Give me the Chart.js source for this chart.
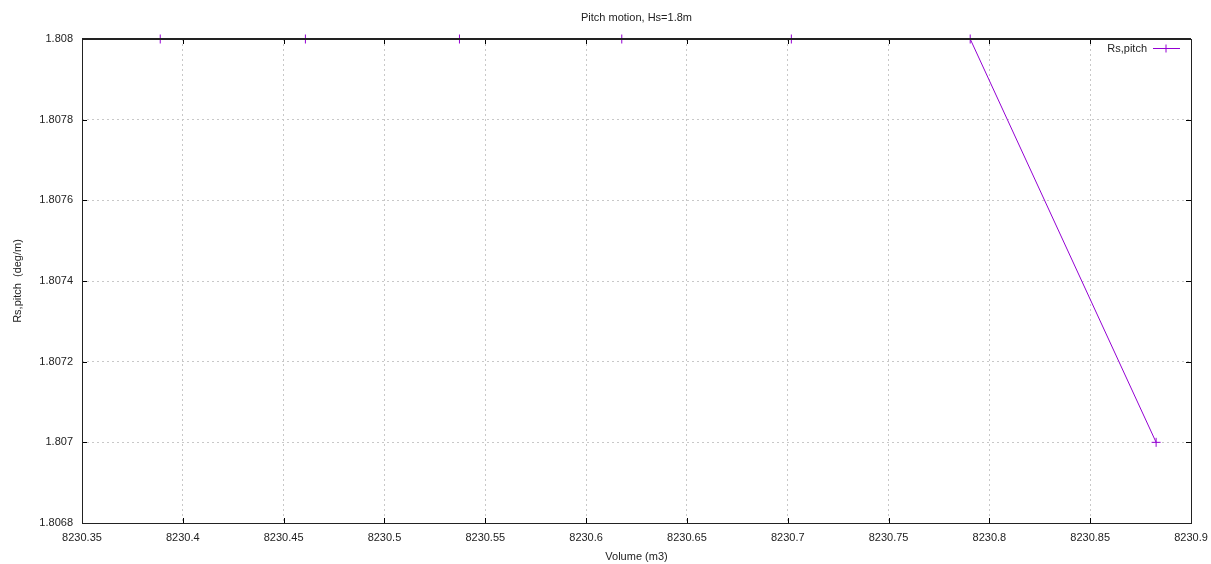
<!DOCTYPE html>
<html>
<head>
<meta charset="utf-8">
<script src="https://cdn.jsdelivr.net/npm/chart.js@4/dist/chart.umd.min.js"></script>
<style>
  html, body { margin: 0; padding: 0; background: #fff; }
  #wrap { width: 1211px; height: 564px; position: relative; }
</style>
</head>
<body>
<div id="wrap"><canvas id="c"></canvas></div>
<script>
'use strict';

const volumes = [8230.3888, 8230.4608, 8230.5372, 8230.6177, 8230.7018, 8230.7905, 8230.8827];
const rsPitch = [1.808, 1.808, 1.808, 1.808, 1.808, 1.808, 1.807];

const xTicks = [8230.35, 8230.4, 8230.45, 8230.5, 8230.55, 8230.6, 8230.65, 8230.7, 8230.75, 8230.8, 8230.85, 8230.9];
const xTickLabels = ['8230.35', '8230.4', '8230.45', '8230.5', '8230.55', '8230.6', '8230.65', '8230.7', '8230.75', '8230.8', '8230.85', '8230.9'];
const yTicks = [1.8068, 1.807, 1.8072, 1.8074, 1.8076, 1.8078, 1.808];
const yTickLabels = ['1.8068', '1.807', '1.8072', '1.8074', '1.8076', '1.8078', '1.808'];

const seriesName = 'Rs,pitch';
const chartTitle = 'Pitch motion, Hs=1.8m';

const FONT = '"Liberation Sans", Arial, sans-serif';
const TEXT = '#222';
const PURPLE = '#9400d3';

// gnuplot-like frame, inward ticks, title and legend
const gnuFrame = {
  id: 'gnuFrame',
  afterDatasetsDraw(chart) {
    const { ctx, chartArea: a, scales } = chart;
    ctx.save();
    ctx.strokeStyle = '#000';
    ctx.lineWidth = 1;
    ctx.beginPath();
    scales.x.ticks.forEach(t => {
      const px = Math.round(scales.x.getPixelForValue(t.value)) + 0.5;
      ctx.moveTo(px, a.bottom); ctx.lineTo(px, a.bottom - 5);
      ctx.moveTo(px, a.top); ctx.lineTo(px, a.top + 5);
    });
    scales.y.ticks.forEach(t => {
      const py = Math.round(scales.y.getPixelForValue(t.value)) + 0.5;
      ctx.moveTo(a.left, py); ctx.lineTo(a.left + 5, py);
      ctx.moveTo(a.right, py); ctx.lineTo(a.right - 5, py);
    });
    ctx.stroke();
    ctx.strokeStyle = '#222';
    ctx.strokeRect(Math.round(a.left) + 0.5, Math.round(a.top) + 0.5,
      Math.round(a.right - a.left), Math.round(a.bottom - a.top));
    // top edge a bit heavier so it hides the series running along it
    ctx.lineWidth = 2;
    ctx.beginPath();
    ctx.moveTo(a.left, Math.round(a.top)); ctx.lineTo(a.right, Math.round(a.top));
    ctx.stroke();

    // title
    ctx.fillStyle = TEXT;
    ctx.font = '11px ' + FONT;
    ctx.textAlign = 'center';
    ctx.textBaseline = 'middle';
    ctx.fillText(chartTitle, (a.left + a.right) / 2, 18);

    // legend
    ctx.textAlign = 'right';
    ctx.fillText(seriesName, a.right - 44, a.top + 10);
    const ly = Math.round(a.top + 9) + 0.5;
    ctx.strokeStyle = PURPLE;
    ctx.lineWidth = 1;
    ctx.beginPath();
    ctx.moveTo(a.right - 38, ly); ctx.lineTo(a.right - 11, ly);
    ctx.moveTo(a.right - 25, ly - 4); ctx.lineTo(a.right - 25, ly + 4);
    ctx.stroke();
    ctx.restore();
  }
};

new Chart(document.getElementById('c'), {
  type: 'scatter',
  data: {
    datasets: [{
      label: seriesName,
      data: volumes.map((v, i) => ({ x: v, y: rsPitch[i] })),
      showLine: true,
      borderColor: PURPLE,
      borderWidth: 1,
      pointStyle: 'cross',
      pointRadius: 4.5,
      pointBorderColor: PURPLE,
      pointBorderWidth: 1,
      clip: false
    }]
  },
  options: {
    responsive: true,
    maintainAspectRatio: false,
    animation: false,
    layout: { padding: { left: 0, right: 20, top: 39, bottom: 0 } },
    plugins: { legend: { display: false }, title: { display: false }, tooltip: { enabled: false } },
    scales: {
      x: {
        type: 'linear',
        min: 8230.35,
        max: 8230.9,
        afterBuildTicks: s => { s.ticks = xTicks.map(v => ({ value: v })); },
        afterFit: s => { s.height = 41; s.paddingLeft = 0; s.paddingRight = 0; },
        ticks: {
          color: TEXT,
          font: { family: FONT, size: 11 },
          padding: 8,
          maxRotation: 0,
          autoSkip: false,
          callback: (v, i) => xTickLabels[i]
        },
        grid: { color: '#c8c8c8', drawTicks: false },
        border: { display: false, dash: [2, 3] },
        title: {
          display: true,
          text: 'Volume (m3)',
          color: TEXT,
          font: { family: FONT, size: 11 },
          padding: { top: 0, bottom: 0 }
        }
      },
      y: {
        type: 'linear',
        min: 1.8068,
        max: 1.808,
        afterBuildTicks: s => { s.ticks = yTicks.map(v => ({ value: v })); },
        afterFit: s => { s.width = 82; },
        ticks: {
          color: TEXT,
          font: { family: FONT, size: 11 },
          padding: 9,
          autoSkip: false,
          callback: (v, i) => yTickLabels[i]
        },
        grid: { color: '#c8c8c8', drawTicks: false },
        border: { display: false, dash: [2, 3] },
        title: {
          display: true,
          text: 'Rs,pitch  (deg/m)',
          color: TEXT,
          font: { family: FONT, size: 11 },
          padding: { top: 11, bottom: 0 }
        }
      }
    }
  },
  plugins: [gnuFrame]
});
</script>
</body>
</html>
